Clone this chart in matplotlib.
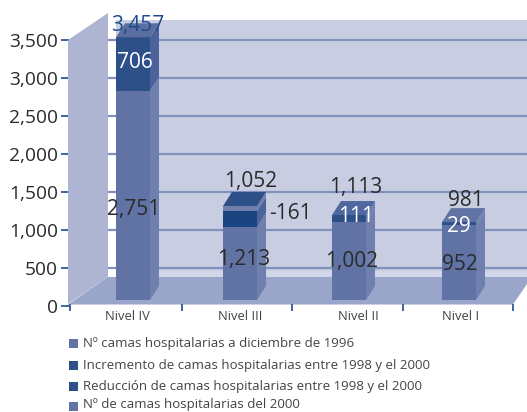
import matplotlib
matplotlib.use("Agg")
import matplotlib.pyplot as plt
from matplotlib.patches import Polygon, Rectangle

plt.rcParams["font.family"] = ["Open Sans", "DejaVu Sans"]

# --- data ---
categories = ["Nivel IV", "Nivel III", "Nivel II", "Nivel I"]
y_ticks = [0, 500, 1000, 1500, 2000, 2500, 3000, 3500]

# bar heights as drawn in the picture
base_height = [2751, 960, 1026, 985]
band_height = [706, 211, 92, 40]
cap_height = [0, 66, 0, 0]

labels_base = ["2,751", "1,213", "1,002", "952"]
labels_band = ["706", "-161", "111", "29"]
labels_total = ["3,457", "1,052", "1,113", "981"]

legend_labels = [
    "Nº camas hospitalarias a diciembre de 1996",
    "Incremento de camas hospitalarias entre 1998 y el 2000",
    "Reducción de camas hospitalarias entre 1998 y el 2000",
    "Nº de camas hospitalarias del 2000",
]

# --- colours ---
WALL = "#c8cde2"
WALL_LOW = "#d2d6e8"
SIDE_WALL = "#adb5d2"
FLOOR = "#9aa6c9"
GRID = "#8092bc"
BASE = "#6073a4"
BASE_SIDE = "#6f80ae"
BAND = "#2d5089"
BAND_DARK = "#1a4580"
BAND_SIDE = "#4b629a"
TEXT = "#2b2b2b"
TEXT_SOFT = "#444444"
TICK = "#1f4c8c"

W, H = 527, 412
fig = plt.figure(figsize=(W / 100, H / 100), dpi=100)

# axes box: x 69..513 px, value 0 at y=306 px, 3500 at y=40 px
ax = fig.add_axes([69 / W, 1 - 306 / H, 444 / W, 266 / H])
ax.set_xlim(0, 4)
ax.set_ylim(0, 3500)
for s in ax.spines.values():
    s.set_visible(False)
ax.patch.set_visible(False)

px_x = 4 / 444      # one pixel in x units
px_y = 3500 / 266   # one pixel in value units


def poly(points, color, z):
    ax.add_patch(Polygon(points, closed=True, fc=color, ec="none", zorder=z, clip_on=False))


def wx(px):
    return (px - 69) * px_x


def wy(px):
    return (306 - px) * px_y


# walls and floor
poly([(wx(116), wy(277)), (wx(527), wy(277)), (wx(527), wy(20)), (wx(116), wy(20))], WALL, 1)
poly([(wx(116), wy(277)), (wx(527), wy(277)), (wx(527), wy(271)), (wx(116), wy(271))], WALL_LOW, 1.2)
poly([(wx(68), wy(304)), (wx(108), wy(277)), (wx(108), wy(13)), (wx(68), wy(40))], SIDE_WALL, 2)
poly([(wx(68), wy(304.5)), (wx(108), wy(277)), (wx(527), wy(277)), (wx(527), wy(284)), (wx(513), wy(304.5))], FLOOR, 2)

# gridlines on the back wall
for v in y_ticks[1:]:
    ax.plot([wx(108), wx(527)], [v, v], color=GRID, lw=1.6, zorder=1.5, clip_on=False, solid_capstyle="butt")

# bars
bar_x = [wx(116), wx(223), wx(332), wx(442)]
top_colors = ["#5b6ea2", BAND, "#4f689f", BASE]
band_colors = [BAND, BAND_DARK, BAND, BAND]
bar_w = 34 * px_x
bar_floor = 6 * px_y
dx = 9 * px_x
dy = 14 * px_y

for i in range(4):
    x0, x1 = bar_x[i], bar_x[i] + bar_w
    b0 = bar_floor
    b1 = b0 + base_height[i]
    b2 = b1 + band_height[i]
    b3 = b2 + cap_height[i]
    ax.bar(x0, base_height[i], bar_w, bottom=b0, align="edge", color=BASE, zorder=4, clip_on=False)
    ax.bar(x0, band_height[i], bar_w, bottom=b1, align="edge", color=band_colors[i], zorder=4, clip_on=False)
    ax.bar(x0, cap_height[i], bar_w, bottom=b2, align="edge", color=BASE_SIDE, zorder=4, clip_on=False)
    poly([(x1, b0), (x1 + dx, b0 + dy), (x1 + dx, b1 + dy), (x1, b1)], BASE_SIDE, 3)
    side = BAND_SIDE if band_height[i] > 100 else BASE_SIDE
    poly([(x1, b1), (x1 + dx, b1 + dy), (x1 + dx, b2 + dy), (x1, b2)], side, 3)
    poly([(x1, b2), (x1 + dx, b2 + dy), (x1 + dx, b3 + dy), (x1, b3)], BASE_SIDE, 3)
    poly([(x0, b3), (x1, b3), (x1 + dx, b3 + dy), (x0 + dx, b3 + dy)], top_colors[i], 4)

# axes ticks
ax.set_yticks(y_ticks)
ax.set_yticklabels([f"{v:,}" for v in y_ticks], fontsize=13.8, color=TEXT)
ax.tick_params(axis="y", length=6, width=1.2, color=TICK, pad=2)
ax.set_xticks([])
ax.vlines([wx(69.5), wx(182), wx(292), wx(403), wx(512.5)], wy(304), wy(311),
          color=TICK, lw=1.2, zorder=5, clip_on=False)

cat_px = [127.5, 240, 358, 460.5]
for name, cx in zip(categories, cat_px):
    ax.text(wx(cx), wy(316.7), name, ha="center", va="center", fontsize=9.4, color=TEXT_SOFT, clip_on=False)

# value labels
pos_base = [(134, 210), (244, 260), (352, 262), (460, 264)]
pos_band = [(135, 63), (290.5, 213.5), (356, 217), (459, 226)]
pos_total = [(138, 26), (251, 181), (355.5, 187), (466, 200)]
band_text = ["white", TEXT, "white", "white"]
for i in range(4):
    ax.text(wx(pos_base[i][0]), wy(pos_base[i][1]), labels_base[i], ha="center", va="center",
            fontsize=15, color=TEXT, zorder=6, clip_on=False)
    ax.text(wx(pos_band[i][0]), wy(pos_band[i][1]), labels_band[i], ha="center", va="center",
            fontsize=15, color=band_text[i], zorder=6, clip_on=False)
    ax.text(wx(pos_total[i][0]), wy(pos_total[i][1]), labels_total[i], ha="center", va="center",
            fontsize=15, color=TICK if i == 0 else TEXT, zorder=6, clip_on=False)

# legend
legend_colors = [BASE, BAND, BAND, BASE]
legend_y = [343.5, 365, 386, 406.5]
text_y = [344, 365.5, 386.5, 404.5]
for name, col, ly, ty in zip(legend_labels, legend_colors, legend_y, text_y):
    fig.add_artist(Rectangle((69 / W, 1 - (ly + 4.5) / H), 9 / W, 9 / H, transform=fig.transFigure,
                             fc=col, ec="none"))
    fig.text(83 / W, 1 - ty / H, name, ha="left", va="center", fontsize=9.55, color=TEXT_SOFT)

fig.savefig("out.png", dpi=100)
